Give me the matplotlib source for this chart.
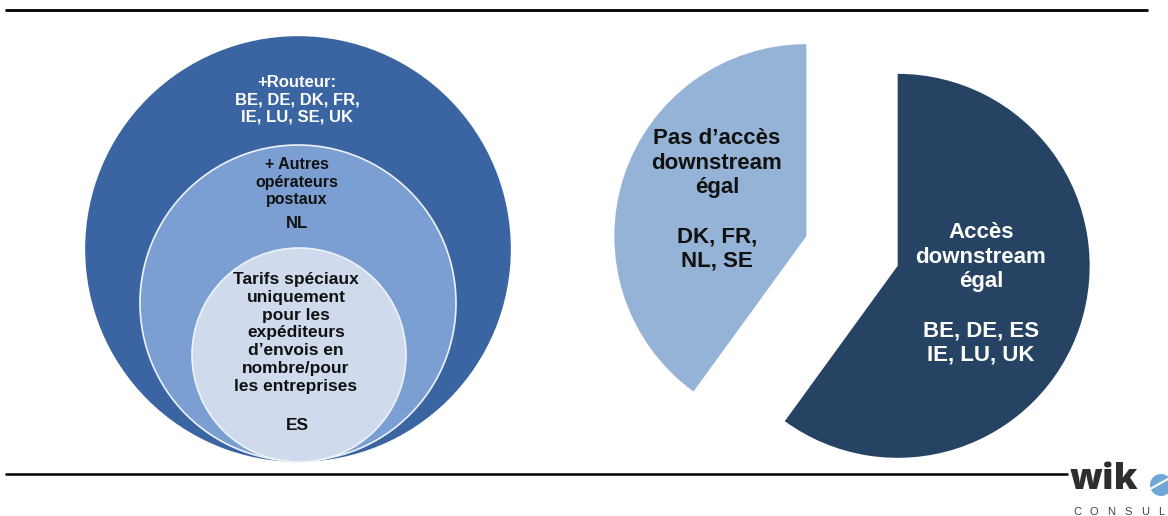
import matplotlib.pyplot as plt
from matplotlib.patches import Circle

plt.rcParams['font.family'] = ['Liberation Sans', 'DejaVu Sans']

# nested circles, outermost first
ring_titles = ["+Routeur:\nBE, DE, DK, FR,\nIE, LU, SE, UK",
               "+ Autres\nopérateurs\npostaux",
               "Tarifs spéciaux\nuniquement\npour les\nexpéditeurs\nd’envois en\nnombre/pour\nles entreprises"]
ring_countries = ["", "NL", "ES"]

# pie: equal downstream access or not
pie_labels = ["Accès\ndownstream\négal", "Pas d’accès\ndownstream\négal"]
pie_countries = ["BE, DE, ES\nIE, LU, UK", "DK, FR,\nNL, SE"]
pie_counts = [6, 4]

W, H = 1168, 516


def py(y):
    # pixel row (from top) to data y
    return H - y


fig = plt.figure(figsize=(W / 100, H / 100), dpi=100)
ax = fig.add_axes([0, 0, 1, 1])

# --- left: nested circles ---
ring_geom = [((298, 249), 212), ((298, 303), 158), ((299, 355), 107)]
ring_colors = ['#3b65a2', '#7b9fd2', '#cfdbed']
ring_edges = ['#3b65a2', '#eef3fa', '#eef3fa']
for (c, r), col, ec in zip(ring_geom, ring_colors, ring_edges):
    ax.add_patch(Circle((c[0], py(c[1])), r, facecolor=col,
                        edgecolor=ec, lw=1.2, zorder=2))

ax.text(297, py(100), ring_titles[0], ha='center', va='center',
        fontsize=12, fontweight='bold', color='white', linespacing=1.2, zorder=5)
ax.text(297, py(182), ring_titles[1], ha='center', va='center',
        fontsize=11.5, fontweight='bold', color='#111111', linespacing=1.2, zorder=5)
ax.text(297, py(223), ring_countries[1], ha='center', va='center',
        fontsize=12, fontweight='bold', color='#111111', zorder=5)
ax.text(296, py(333), ring_titles[2], ha='center', va='center',
        fontsize=12.5, fontweight='bold', color='#111111', linespacing=1.24, zorder=5)
ax.text(297, py(425), ring_countries[2], ha='center', va='center',
        fontsize=12.5, fontweight='bold', color='#111111', zorder=5)

# --- right: exploded pie ---
pie_text = [l + "\n\n" + c for l, c in zip(pie_labels, pie_countries)]
wedges, texts = ax.pie(pie_counts, labels=pie_text, colors=['#264364', '#95b3d7'],
                       startangle=90, counterclock=False, radius=192,
                       center=(852, py(251)), explode=[48, 48],
                       labeldistance=0.48, frame=True,
                       wedgeprops=dict(linewidth=0),
                       textprops=dict(fontsize=16, fontweight='bold'))
label_pos = [(981, py(294)), (717, py(200))]
for t, col, pos in zip(texts, ['white', '#111111'], label_pos):
    t.set_position(pos)
    t.set_ha('center')
    t.set_va('center')
    t.set_multialignment('center')
    t.set_linespacing(1.22)
    t.set_color(col)

# rules top and bottom
ax.plot([5, 1148], [py(10), py(10)], color='black', lw=2, solid_capstyle='butt')
ax.plot([5, 1068], [py(474), py(474)], color='black', lw=1.8, solid_capstyle='butt')

# logo
ax.text(1070, py(489), "wik", ha='left', va='baseline', fontsize=26,
        fontweight='heavy', color='#2e2e2e', family=['Open Sans', 'DejaVu Sans'])
ax.add_patch(Circle((1161, py(485)), 11, facecolor='#6fa8d6', edgecolor='none'))
ax.plot([1150, 1168], [py(489), py(479)], color='white', lw=1.5)
for i, ch in enumerate("CONSULT"):
    x = 1073 + 17 * i
    if x + 8 < W:
        ax.text(x, py(512), ch, ha='left', va='center', fontsize=8,
                color='#444444')

ax.set_xlim(0, W)
ax.set_ylim(0, H)
ax.set_aspect('equal')
ax.axis('off')

fig.savefig('out.png', dpi=100, facecolor='white')
